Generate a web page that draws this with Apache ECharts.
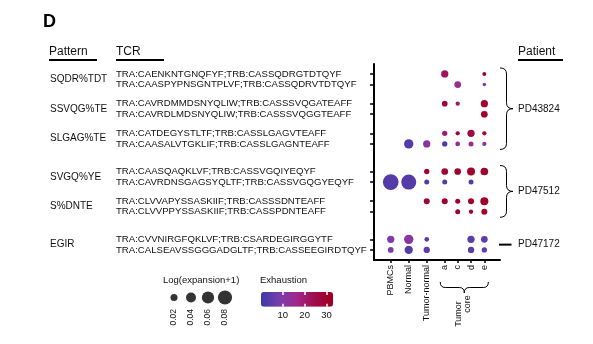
<!DOCTYPE html>
<html>
<head>
<meta charset="utf-8">
<script src="https://cdn.jsdelivr.net/npm/echarts@6/dist/echarts.min.js"></script>
<style>
  html, body { margin: 0; padding: 0; background: #fff; }
  #chart { width: 593px; height: 344px; }
</style>
</head>
<body>
<div id="chart"></div>
<script>
// Sample columns (blood, normal tissue, tumor-adjacent, tumor core regions)
const columns = ['PBMCs', 'Normal', 'Tumor-normal', 'a', 'c', 'd', 'e'];

// CDR3 patterns, two paired TCRs each
const patterns = ['SQDR%TDT', 'SSVQG%TE', 'SLGAG%TE', 'SVGQ%YE', 'S%DNTE', 'EGIR'];

const tcrs = [
  'TRA:CAENKNTGNQFYF;TRB:CASSQDRGTDTQYF',
  'TRA:CAASPYPNSGNTPLVF;TRB:CASSQDRVTDTQYF',
  'TRA:CAVRDMMDSNYQLIW;TRB:CASSSVQGATEAFF',
  'TRA:CAVRDLMDSNYQLIW;TRB:CASSSVQGGTEAFF',
  'TRA:CATDEGYSTLTF;TRB:CASSLGAGVTEAFF',
  'TRA:CAASALVTGKLIF;TRB:CASSLGAGNTEAFF',
  'TRA:CAASQAQKLVF;TRB:CASSVGQIYEQYF',
  'TRA:CAVRDNSGAGSYQLTF;TRB:CASSVGQGYEQYF',
  'TRA:CLVVAPYSSASKIIF;TRB:CASSSDNTEAFF',
  'TRA:CLVVPPYSSASKIIF;TRB:CASSPDNTEAFF',
  'TRA:CVVNIRGFQKLVF;TRB:CSARDEGIRGGYTF',
  'TRA:CALSEAVSSGGGADGLTF;TRB:CASSEEGIRDTQYF'
];

const patients = ['PD43824', 'PD47512', 'PD47172'];
const patternsPerPatient = [3, 2, 1];

// Log(expansion+1) per TCR (rows) and sample (columns); null = not detected
const expansion = [
  [null,   null,   null,   0.021,  null,   null,   0.0064],
  [null,   null,   null,   null,   0.018,  null,   0.0049],
  [null,   null,   null,   0.013,  0.0074, null,   0.021],
  [null,   null,   null,   null,   null,   null,   0.018],
  [null,   null,   null,   0.0112, 0.0074, 0.021,  0.0074],
  [null,   0.035,  0.021,  0.0112, 0.0088, 0.010,  0.0074],
  [null,   null,   0.0112, 0.018,  0.018,  0.0256, 0.0237],
  [0.0986, 0.090,  0.010,  0.010,  null,   0.010,  null],
  [null,   null,   0.0144, 0.0144, 0.010,  0.0144, 0.0256],
  [null,   null,   null,   null,   0.010,  0.0074, 0.0144],
  [0.021,  0.035,  0.0088, null,   null,   0.021,  0.018],
  [0.013,  0.0276, 0.0159, null,   null,   0.0159, 0.0112]
];

// Exhaustion score for the same cells
const exhaustion = [
  [null, null, null, 22,   null, null, 30],
  [null, null, null, null, 15,   null, 8],
  [null, null, null, 28,   21,   null, 30],
  [null, null, null, null, null, null, 31],
  [null, null, null, 20,   28,   27,   28],
  [null, 3,    12,   2,    14,   15,   9],
  [null, null, 30,   30,   30,   30,   30],
  [3,    3,    3,    3,    null, 3,    null],
  [null, null, 30,   31,   31,   31,   31],
  [null, null, null, null, 30,   30,   30],
  [9,    11,   4,    null, null, 4,    5],
  [8,    3,    5,    null, null, 4,    5]
];

const sizeBreaks = [0.02, 0.04, 0.06, 0.08];
const exhaustionTicks = [10, 20, 30];

// ---- layout -------------------------------------------------------------
// column placement: tumor core regions sit closer together
const colPos = [0, 1, 2, 3, 3.72, 4.46, 5.2];
// row placement: pairs of TCRs, wider gaps between patterns and patients
const rowPos = [];
(function () {
  let y = 0;
  patternsPerPatient.forEach(n => {
    for (let k = 0; k < n; k++) {
      rowPos.push(y, y + 1);
      y += (k < n - 1) ? 2.8 : 3.6;
    }
  });
})();

const FONT = "'Liberation Sans', Arial, Helvetica, sans-serif";
const INK = '#111';
const sizeOf = v => 50 * Math.sqrt(v);
const nameAt = (positions, names) => v => {
  const k = positions.findIndex(p => Math.abs(p - v) < 1e-6);
  return k < 0 ? '' : names[k];
};

const points = [];
expansion.forEach((row, i) => row.forEach((v, j) => {
  if (v != null) points.push([colPos[j], rowPos[i], v, exhaustion[i][j]]);
}));

const chart = echarts.init(document.getElementById('chart'));

chart.setOption({
  animation: false,
  textStyle: { fontFamily: FONT },
  grid: [
    { left: 374, top: 64, width: 126, height: 196 },
    { left: 165.5, top: 290, width: 68, height: 15 },
    { left: 261, top: 292, width: 72, height: 14.7 }
  ],
  xAxis: [
    {
      gridIndex: 0, type: 'value', min: -0.93, max: 6.07,
      splitLine: { show: false },
      axisLine: { onZero: false, lineStyle: { color: '#000', width: 2 } },
      axisTick: { customValues: colPos, length: 3, lineStyle: { color: '#000', width: 1.5 } },
      axisLabel: { customValues: colPos, formatter: nameAt(colPos, columns), rotate: 90,
                   fontSize: 9, color: INK, margin: 5 }
    },
    {
      gridIndex: 1, type: 'category', data: sizeBreaks.map(String),
      axisLine: { show: false }, axisTick: { show: false },
      axisLabel: { rotate: 90, fontSize: 8.5, color: INK, margin: 4 }
    },
    {
      gridIndex: 2, type: 'value', min: 0, max: 33, z: 10,
      axisLine: { show: false, onZero: false }, splitLine: { show: false },
      axisTick: { customValues: exhaustionTicks, inside: true, length: 3, lineStyle: { color: '#fff', width: 1.5 } },
      axisLabel: { customValues: exhaustionTicks, fontSize: 9.5, color: INK, margin: 4 }
    },
    {
      gridIndex: 2, type: 'value', position: 'top', min: 0, max: 33, z: 10,
      axisLine: { show: false, onZero: false }, splitLine: { show: false },
      axisTick: { customValues: exhaustionTicks, inside: true, length: 3, lineStyle: { color: '#fff', width: 1.5 } },
      axisLabel: { show: false }
    }
  ],
  yAxis: [
    {
      gridIndex: 0, type: 'value', inverse: true, min: -0.94, max: 17.55,
      splitLine: { show: false },
      axisLine: { onZero: false, lineStyle: { color: '#000', width: 2 } },
      axisTick: { customValues: rowPos, length: 4, lineStyle: { color: '#000', width: 1.5 } },
      axisLabel: { customValues: rowPos, formatter: nameAt(rowPos, tcrs), align: 'left',
                   margin: 258, fontSize: 9.6, color: INK }
    },
    { gridIndex: 1, type: 'value', min: 0, max: 1, show: false },
    { gridIndex: 2, type: 'value', min: 0, max: 1, show: false }
  ],
  visualMap: {
    type: 'continuous', min: 0, max: 33, dimension: 3, seriesIndex: 0,
    orient: 'horizontal', left: 261, top: 292, padding: 0,
    itemWidth: 14.7, itemHeight: 72, calculable: false, hoverLink: false,
    inRange: { color: ['#3c3aa5', '#7a3cad', '#a0288a', '#a00a4a', '#9c0020'] }
  },
  series: [
    {
      type: 'scatter', xAxisIndex: 0, yAxisIndex: 0, data: points,
      symbolSize: d => sizeOf(d[2]), itemStyle: { opacity: 1 }
    },
    {
      type: 'scatter', xAxisIndex: 1, yAxisIndex: 1,
      data: sizeBreaks.map((v, i) => [i, 0.5, v]),
      symbolSize: d => sizeOf(d[2]), itemStyle: { color: '#000' }
    },
    { type: 'scatter', xAxisIndex: 2, yAxisIndex: 2, data: [] }
  ]
});

// ---- annotations placed from the axes --------------------------------------
const px = (x, y) => chart.convertToPixel({ gridIndex: 0 }, [x, y]);
const txt = (text, x, y, extra, rotation) => ({
  type: 'text', x: x, y: y, rotation: rotation || 0,
  style: Object.assign({ text: text, fill: INK, font: '10px ' + FONT, verticalAlign: 'middle' }, extra || {})
});
const line = (x1, y1, x2, y2, w) => ({
  type: 'line', shape: { x1: x1, y1: y1, x2: x2, y2: y2 },
  style: { stroke: '#000', lineWidth: w || 1.8 }
});
const curve = (x1, y1, cx, cy, x2, y2) => ({
  type: 'bezierCurve', shape: { x1: x1, y1: y1, cpx1: cx, cpy1: cy, x2: x2, y2: y2 },
  style: { fill: null, stroke: '#000', lineWidth: 1 }
});
// right-pointing curly brace
const braceRight = (x, top, bottom, w) => {
  const mid = (top + bottom) / 2, h = w / 2, r = 6;
  return [
    curve(x, top, x + h, top, x + h, top + r),
    line(x + h, top + r, x + h, mid - r, 1),
    curve(x + h, mid - r, x + h, mid, x + w, mid),
    curve(x + w, mid, x + h, mid, x + h, mid + r),
    line(x + h, mid + r, x + h, bottom - r, 1),
    curve(x + h, bottom - r, x + h, bottom, x, bottom)
  ];
};
// downward curly brace
const braceDown = (left, right, y, hgt) => {
  const mid = (left + right) / 2, h = hgt / 2, r = 5;
  return [
    curve(left, y, left, y + h, left + r, y + h),
    line(left + r, y + h, mid - r, y + h, 1),
    curve(mid - r, y + h, mid, y + h, mid, y + hgt),
    curve(mid, y + hgt, mid, y + h, mid + r, y + h),
    line(mid + r, y + h, right - r, y + h, 1),
    curve(right - r, y + h, right, y + h, right, y)
  ];
};

const g = [];
g.push(txt('D', 43, 22, { font: 'bold 18px ' + FONT, fill: '#000' }));
g.push(txt('Pattern', 49, 52, { font: '12px ' + FONT }));
g.push(line(49, 60, 97, 60));
g.push(txt('TCR', 116, 52, { font: '12px ' + FONT }));
g.push(line(116, 60, 164, 60));
g.push(txt('Patient', 518, 52, { font: '12px ' + FONT }));
g.push(line(518, 60, 563, 60));

patterns.forEach((p, k) => {
  const y = (px(0, rowPos[2 * k])[1] + px(0, rowPos[2 * k + 1])[1]) / 2;
  g.push(txt(p, 50, y));
});

let rowStart = 0;
patients.forEach((p, i) => {
  const rows = patternsPerPatient[i] * 2;
  const top = px(0, rowPos[rowStart])[1];
  const bot = px(0, rowPos[rowStart + rows - 1])[1];
  const mid = (top + bot) / 2;
  if (patternsPerPatient[i] > 1) {
    g.push(...braceRight(500, top - 6, bot + 5.5, 13));
  } else {
    g.push(line(499, mid, 511.5, mid, 2));
  }
  g.push(txt(p, 518, mid));
  rowStart += rows;
});

// tumor core regions
const xa = px(colPos[3], 0)[0], xe = px(colPos[6], 0)[0];
g.push(...braceDown(xa - 4.5, xe + 4, 282, 11));
g.push(txt('Tumor', 459, 314, { font: '9px ' + FONT, align: 'center' }, Math.PI / 2));
g.push(txt('core', 468, 304, { font: '9px ' + FONT, align: 'center' }, Math.PI / 2));

// legend titles
g.push(txt('Log(expansion+1)', 163, 280, { font: '9.5px ' + FONT }));
g.push(txt('Exhaustion', 260, 280, { font: '9.5px ' + FONT }));

chart.setOption({ graphic: { elements: g } });
</script>
</body>
</html>
